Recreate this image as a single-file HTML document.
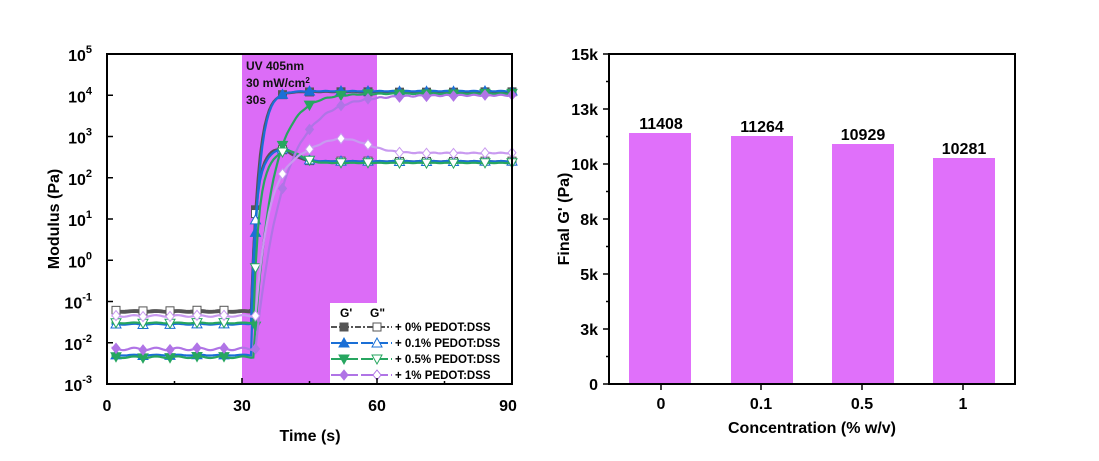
<!DOCTYPE html>
<html><head><meta charset="utf-8"><style>
body{margin:0;background:#fff}
svg{display:block;font-family:"Liberation Sans",Arial,sans-serif;font-weight:bold}
</style></head><body>
<svg id="s" width="1099" height="461" xmlns="http://www.w3.org/2000/svg">
<rect width="1099" height="461" fill="#fff"/>
<rect x="242" y="54" width="135" height="330" fill="#dc6cf7"/>
<g id="curves"></g>
<rect x="330" y="303" width="182" height="81" fill="#fff"/>
<g font-size="12">
<text x="340" y="317">G'</text><text x="370" y="317">G"</text>
</g>
<g id="legend" font-size="11.5"></g>
<g font-size="12" fill="#111">
<text x="246" y="70">UV 405nm</text>
<text x="246" y="87">30 mW/cm<tspan font-size="8" dy="-4">2</tspan></text>
<text x="246" y="104" dy="0">30s</text>
</g>
<rect x="107" y="54" width="405" height="330" fill="none" stroke="#000" stroke-width="2"/>
<g id="lticks" stroke="#000" stroke-width="1.5"></g>
<g font-size="16" text-anchor="end" id="ylab"></g>
<g font-size="16" text-anchor="middle">
<text x="107" y="411">0</text><text x="242" y="411">30</text><text x="377" y="411">60</text><text x="508" y="411">90</text>
<text x="310" y="441">Time (s)</text>
</g>
<text font-size="16" text-anchor="middle" transform="translate(59,219) rotate(-90)">Modulus (Pa)</text>

<g fill="#e070fa">
<rect x="629" y="133" width="62" height="251"/>
<rect x="731" y="136" width="62" height="248"/>
<rect x="832" y="144" width="62" height="240"/>
<rect x="933" y="158" width="62" height="226"/>
</g>
<g font-size="16" text-anchor="middle">
<text x="661" y="129">11408</text><text x="762" y="132">11264</text><text x="863" y="140">10929</text><text x="964" y="154">10281</text>
<text x="661" y="409">0</text><text x="761" y="409">0.1</text><text x="862" y="409">0.5</text><text x="963" y="409">1</text>
<text x="812" y="433">Concentration (% w/v)</text>
</g>
<rect x="609" y="54" width="406" height="330" fill="none" stroke="#000" stroke-width="2"/>
<g id="rticks" stroke="#000" stroke-width="1.5"></g>
<g font-size="16" text-anchor="end">
<text x="598" y="60">15k</text><text x="598" y="115">13k</text><text x="598" y="170">10k</text><text x="598" y="225">8k</text><text x="598" y="280">5k</text><text x="598" y="335">3k</text><text x="598" y="390">0</text>
</g>
<text font-size="16" text-anchor="middle" transform="translate(569,219) rotate(-90)">Final G' (Pa)</text>
</svg>
<script>
const NS="http://www.w3.org/2000/svg";
function el(t,a,p){const e=document.createElementNS(NS,t);for(const k in a)e.setAttribute(k,a[k]);p.appendChild(e);return e;}
const X=t=>107+t*4.5, Y=l=>384-(l+3)*41.25;
const yl=document.getElementById('ylab'), lt=document.getElementById('lticks');
for(let n=-3;n<=5;n++){const y=Y(n);const t=el('text',{x:92,y:y+7},yl);t.textContent='10';const s=el('tspan',{'font-size':11,dy:-8},t);s.textContent=n;
 el('line',{x1:107,x2:113,y1:y,y2:y},lt);}
[0,30,60,90].forEach(t=>el('line',{x1:X(t),x2:X(t),y1:384,y2:378},lt));
[15,45,75].forEach(t=>el('line',{x1:X(t),x2:X(t),y1:384,y2:381},lt));
const rt=document.getElementById('rticks');
for(let i=0;i<=6;i++){const y=384-i*55;el('line',{x1:609,x2:603,y1:y,y2:y},rt);if(i<6)el('line',{x1:609,x2:606,y1:y-27.5,y2:y-27.5},rt);}
[661,761,862,963].forEach(x=>el('line',{x1:x,x2:x,y1:384,y2:390},rt));
const g=document.getElementById('curves');
function curve(pre,post,t0,tau,peak,noise){return t=>{if(t<t0)return pre+noise*Math.sin(t*1.3);let v=post+(pre-post)*Math.exp(-(t-t0)/tau);if(peak)v+=peak(t);return v+noise*0.5*Math.sin(t*2.1);};}
const series=[
 {c:'#555',f:curve(-1.26,4.08,32,1.6,null,0.01),fill:true,m:'sq'},
 {c:'#555',f:curve(-1.22,2.4,32,1.0,t=>0.3*Math.exp(-Math.pow((t-38)/4,2)),0.01),fill:false,m:'sq'},
 {c:'#1a6fd6',f:curve(-2.3,4.1,32,1.6,null,0.01),fill:true,m:'tu'},
 {c:'#1a6fd6',f:curve(-1.55,2.4,32,1.0,t=>0.3*Math.exp(-Math.pow((t-39)/4,2)),0.01),fill:false,m:'tu'},
 {c:'#27a660',f:curve(-2.35,4.04,32.5,4,null,0.02),fill:true,m:'td'},
 {c:'#27a660',f:curve(-1.52,2.36,32.5,1.2,t=>0.3*Math.exp(-Math.pow((t-40)/4,2)),0.01),fill:false,m:'td'},
 {c:'#b074e6',f:curve(-2.15,4.0,33,6,null,0.03),fill:true,m:'di'},
 {c:'#c99af0',f:curve(-1.35,2.6,33,3,t=>0.35*Math.exp(-Math.pow((t-52)/8,2)),0.02),fill:false,m:'di'}
];
function marker(type,x,y,c,fill,p){const a={fill:fill?c:'#fff',stroke:c,'stroke-width':1};const r=4;
 if(type==='sq')el('rect',Object.assign({x:x-r,y:y-r,width:2*r,height:2*r},a),p);
 else if(type==='tu')el('polygon',Object.assign({points:`${x},${y-r-1} ${x-r-1},${y+r} ${x+r+1},${y+r}`},a),p);
 else if(type==='td')el('polygon',Object.assign({points:`${x},${y+r+1} ${x-r-1},${y-r} ${x+r+1},${y-r}`},a),p);
 else el('polygon',Object.assign({points:`${x},${y-r-1} ${x+r},${y} ${x},${y+r+1} ${x-r},${y}`},a),p);}
const mt=[2,8,14,20,26,33,39,45,52,58,65,71,77,84,90];
series.forEach(s=>{let pts=[];for(let t=1;t<=90;t+=0.5)pts.push(X(t).toFixed(1)+','+Y(s.f(t)).toFixed(1));
 el('polyline',{points:pts.join(' '),fill:'none',stroke:s.c,'stroke-width':2.2},g);
 mt.forEach(t=>marker(s.m,X(t),Y(s.f(t)),s.c,s.fill,g));});
const L=document.getElementById('legend');
const rows=[['#555','sq','+ 0% PEDOT:DSS'],['#1a6fd6','tu','+ 0.1% PEDOT:DSS'],['#27a660','td','+ 0.5% PEDOT:DSS'],['#b074e6','di','+ 1% PEDOT:DSS']];
rows.forEach((r,i)=>{const y=327+i*16;el('line',{x1:331,x2:392,y1:y,y2:y,stroke:r[0],'stroke-width':2,'stroke-dasharray':i?'12 3':'6 2 2 2'},L);
 marker(r[1],344,y,r[0],true,L);marker(r[1],377,y,r[0],false,L);
 const t=el('text',{x:395,y:y+4},L);t.textContent=r[2];});
</script>
</body></html>
